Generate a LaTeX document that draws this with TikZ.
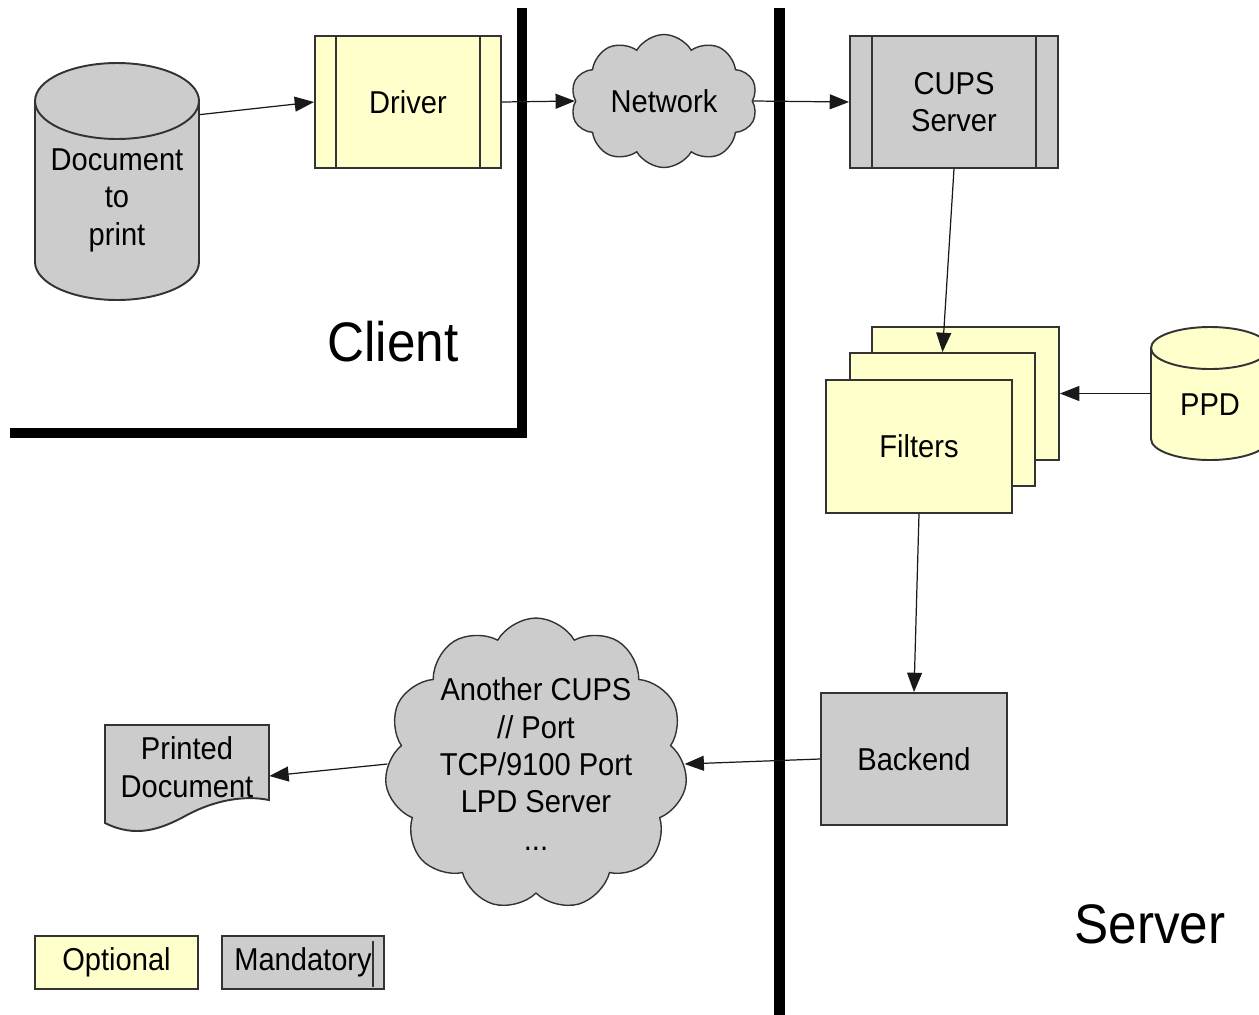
\documentclass[tikz,border=0pt]{standalone}
\usepackage{fontspec}
\setmainfont{Liberation Sans}[FakeStretch=0.92]
\usetikzlibrary{arrows.meta,shapes.symbols,calc}
\definecolor{optfill}{HTML}{FFFFCC}
\definecolor{manfill}{HTML}{CCCCCC}
\definecolor{edgec}{HTML}{333333}
\tikzset{
  txt/.style={inner sep=0pt, align=center, font=\fontsize{18}{21.3}\selectfont},
  box/.style={txt, draw=edgec, line width=1.1pt},
  optbox/.style={box, fill=optfill},
  manbox/.style={box, fill=manfill},
  conn/.style={draw=black!90, line width=0.7pt, -{Triangle[length=11pt,width=8.5pt]}},
  wall/.style={line width=5.8pt, black, line join=miter},
  bigtext/.style={inner sep=0pt, font=\fontsize{31.7}{36}\selectfont},
  cloudnode/.style={txt, cloud, cloud puffs=10, cloud puff arc=120, cloud ignores aspect, draw=edgec, line width=0.8pt, fill=manfill},
  shapeline/.style={draw=edgec, line width=1.1pt}
}
\begin{document}
\begin{tikzpicture}[x=0.02cm, y=-0.02cm]
\useasboundingbox (0,0) rectangle (1259,1015);

% walls
\draw[wall] (522,8) -- (522,433) -- (10,433);
\draw[wall] (779.5,8) -- (779.5,1020);

% Document to print cylinder
\draw[shapeline, fill=manfill] (35,101) -- (35,262)
  arc[start angle=180, end angle=360, x radius=1.64cm, y radius=0.76cm]
  -- (199,101)
  arc[start angle=0, end angle=180, x radius=1.64cm, y radius=0.76cm] -- cycle;
\draw[shapeline] (35,101) arc[start angle=180, end angle=360, x radius=1.64cm, y radius=0.76cm];
\node[inner sep=0pt, minimum width=3.28cm, minimum height=4.74cm] (doc) at (117,181.5) {};
\node[txt] (doctxt) at (117,200) {Document\\to\\print};

% Driver
\node[optbox, minimum width=3.72cm, minimum height=2.64cm] (driver) at (408,102) {Driver};
\draw[shapeline] ([xshift=0.44cm]driver.north west) -- ([xshift=0.44cm]driver.south west);
\draw[shapeline] ([xshift=-0.44cm]driver.north east) -- ([xshift=-0.44cm]driver.south east);

% Network cloud
\node[cloudnode, minimum width=3.74cm, minimum height=2.66cm] (net) at (664,101) {Network};

% CUPS Server
\node[manbox, minimum width=4.16cm, minimum height=2.64cm] (cups) at (954,102) {CUPS\\Server};
\draw[shapeline] ([xshift=0.46cm]cups.north west) -- ([xshift=0.46cm]cups.south west);
\draw[shapeline] ([xshift=-0.46cm]cups.north east) -- ([xshift=-0.46cm]cups.south east);

% Filters
\node[optbox, minimum width=3.74cm, minimum height=2.66cm] (fback) at (965.5,393.5) {};
\node[optbox, minimum width=3.70cm, minimum height=2.66cm] (fmid) at (942.5,419.5) {};
\node[optbox, minimum width=3.72cm, minimum height=2.66cm] (ffront) at (919,446.5) {Filters};

% PPD cylinder
\draw[shapeline, fill=optfill] (1151,348) -- (1151,439)
  arc[start angle=180, end angle=360, x radius=1.18cm, y radius=0.42cm]
  -- (1269,348)
  arc[start angle=0, end angle=180, x radius=1.18cm, y radius=0.42cm] -- cycle;
\draw[shapeline] (1151,348) arc[start angle=180, end angle=360, x radius=1.18cm, y radius=0.42cm];
\node[inner sep=0pt, minimum width=2.36cm, minimum height=2.66cm] (ppd) at (1210,393.5) {};
\node[txt] (ppdtxt) at (1210,405) {PPD};

% Backend
\node[manbox, minimum width=3.72cm, minimum height=2.64cm] (backend) at (914,759) {Backend};

% Another CUPS cloud
\node[cloudnode, cloud puffs=11, minimum width=6.06cm, minimum height=5.84cm] (dest) at (536,764)
  {Another CUPS\\// Port\\TCP/9100 Port\\LPD Server\\...};

% Printed document
\draw[shapeline, fill=manfill] (105,725) -- (269,725) -- (269,800)
  .. controls (245,795) and (215,800) .. (187,815)
  .. controls (160,830) and (135,838) .. (105,823) -- cycle;
\node[inner sep=0pt, minimum width=3.28cm, minimum height=1.68cm] (pdoc) at (187,767) {};
\node[txt] (pdoctxt) at (187,767) {Printed\\Document};

% Region labels
\node[bigtext, anchor=base] (client) at (393,361) {Client};
\node[bigtext, anchor=base] (server) at (1150,943) {Server};

% Legend
\node[optbox, minimum width=3.26cm, minimum height=1.06cm] (optional) at (116.5,962.5) {Optional};
\node[manbox, minimum width=3.24cm, minimum height=1.06cm] (mandatory) at (303,962.5) {Mandatory};
\draw[edgec, line width=0.8pt] (373,941) -- (373,987);

% Connectors
\draw[conn] ([yshift=-1.04cm]doc.north east) -- (driver.west);
\draw[conn] (driver.east) -- (net.west);
\draw[conn] (net.east) -- (cups.west);
\draw[conn] (cups.south) -- (fmid.north);
\draw[conn] (ppd.west) -- (fback.east);
\draw[conn] (ffront.south) -- (backend.north);
\draw[conn] (backend.west) -- (dest.east);
\draw[conn] (dest.west) -- ([yshift=-0.18cm]pdoc.east);
\end{tikzpicture}
\end{document}
